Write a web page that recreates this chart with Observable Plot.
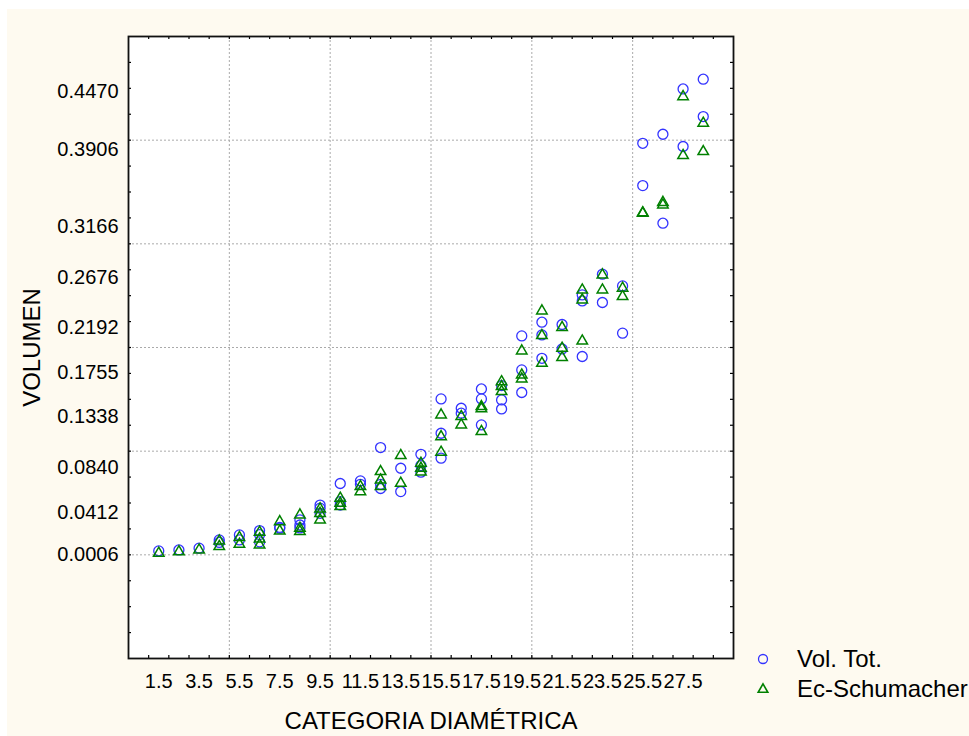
<!DOCTYPE html>
<html>
<head>
<meta charset="utf-8">
<script src="https://cdn.jsdelivr.net/npm/d3@7"></script>
<script src="https://cdn.jsdelivr.net/npm/@observablehq/plot@0.6"></script>
<style>
  html, body { margin: 0; padding: 0; background: #ffffff; overflow: hidden; width: 969px; height: 736px; }
  #chart { position: absolute; left: 7px; top: 9px; }
  #legend { position: absolute; left: 755px; top: 644px; font-family: "Liberation Sans", Arial, sans-serif; font-size: 24px; color: #000; white-space: nowrap; }
  #legend .row { display: flex; align-items: center; height: 30px; }
  #legend svg { flex: none; }
  #legend span { margin-left: 26px; }
</style>
</head>
<body>
<div id="chart"></div>
<div id="legend"></div>
<script>
// ---- data ----
const categorias = [1.5, 2.5, 3.5, 4.5, 5.5, 6.5, 7.5, 8.5, 9.5, 10.5, 11.5, 12.5, 13.5, 14.5,
  15.5, 16.5, 17.5, 18.5, 19.5, 20.5, 21.5, 22.5, 23.5, 24.5, 25.5, 26.5, 27.5, 28.5];

const volTot = [
  [0.0038], [0.0047], [0.0064], [0.0144, 0.0120], [0.0192, 0.0144],
  [0.0234, 0.0195, 0.0125], [0.0265, 0.0257], [0.0337, 0.0288, 0.0260],
  [0.0480, 0.0450, 0.0400], [0.0688, 0.0514, 0.0480], [0.0713, 0.0680],
  [0.1035, 0.0680, 0.0640], [0.0835, 0.0610], [0.0970, 0.0861, 0.0797],
  [0.1504, 0.1173, 0.0932], [0.1414, 0.1366], [0.1600, 0.1504, 0.1253],
  [0.1633, 0.1494, 0.1407], [0.2112, 0.1784, 0.1566], [0.2244, 0.2121, 0.1896],
  [0.2222, 0.1986], [0.2507, 0.2449, 0.1913], [0.2707, 0.2434], [0.2594, 0.2138],
  [0.3970, 0.3562], [0.4057, 0.3199], [0.4494, 0.3939], [0.4588, 0.4228]
];

const ecSchumacher = [
  [0.0015], [0.0030], [0.0047], [0.0134, 0.0080], [0.0167, 0.0102],
  [0.0218, 0.0153, 0.0096], [0.0320, 0.0230], [0.0385, 0.0257, 0.0225],
  [0.0443, 0.0400, 0.0337], [0.0546, 0.0498, 0.0466], [0.0659, 0.0610],
  [0.0803, 0.0722, 0.0659], [0.0958, 0.0690], [0.0884, 0.0835, 0.0800],
  [0.1350, 0.1140, 0.0990], [0.1334, 0.1253], [0.1430, 0.1410, 0.1190],
  [0.1670, 0.1623, 0.1575], [0.1967, 0.1735, 0.1697], [0.2353, 0.2115, 0.1848],
  [0.2193, 0.1993, 0.1903], [0.2555, 0.2459, 0.2063], [0.2700, 0.2555], [0.2572, 0.2492],
  [0.3295, 0.3300], [0.3400, 0.3375], [0.4420, 0.3852], [0.4163, 0.3890]
];

const xTickLabels = [1.5, 3.5, 5.5, 7.5, 9.5, 11.5, 13.5, 15.5, 17.5, 19.5, 21.5, 23.5, 25.5, 27.5];
const yTickLabels = [0.0006, 0.0412, 0.0840, 0.1338, 0.1755, 0.2192, 0.2676, 0.3166, 0.3906, 0.4470];
const xGrid = [5, 10, 15, 20, 25];
const yGrid = [0, 0.1, 0.2, 0.3, 0.4];
const xMinor = d3.range(1, 30);
const yMinor = d3.range(-0.075, 0.49, 0.025);

const seriesNames = ["Vol. Tot.", "Ec-Schumacher"];
const seriesColors = ["#3333ff", "#008000"];

// ---- build tables ----
const ptsVol = categorias.flatMap((c, i) => volTot[i].map(v => ({x: c, y: v})));
const ptsEc = categorias.flatMap((c, i) => ecSchumacher[i].map(v => ({x: c, y: v})));

const W = 962, H = 727;
const mL = 121, mR = 236, mT = 27, mB = 78;
const innerW = W - mL - mR, innerH = H - mT - mB;
const FONT = "Liberation Sans, Arial, sans-serif";

const chart = Plot.plot({
  width: W,
  height: H,
  marginLeft: mL,
  marginRight: mR,
  marginTop: mT,
  marginBottom: mB,
  style: {background: "#fefaf0", fontFamily: FONT, color: "#000", overflow: "visible"},
  x: {domain: [0, 30]},
  y: {domain: [-0.1, 0.5]},
  marks: [
    Plot.frame({fill: "#ffffff", stroke: null}),
    Plot.gridX(xGrid, {stroke: "#aaaaaa", strokeOpacity: 1, strokeDasharray: "2,2", strokeWidth: 1}),
    Plot.gridY(yGrid, {stroke: "#aaaaaa", strokeOpacity: 1, strokeDasharray: "2,2", strokeWidth: 1}),
    // inward minor ticks on all four sides
    Plot.tickX(xMinor, {x: d => d, insetTop: innerH - 3, stroke: "#000", strokeWidth: 1.2}),
    Plot.tickX(xMinor, {x: d => d, insetBottom: innerH - 3, stroke: "#000", strokeWidth: 1.2}),
    Plot.tickY(yMinor, {y: d => d, insetRight: innerW - 3, stroke: "#000", strokeWidth: 1.2}),
    Plot.tickY(yMinor, {y: d => d, insetLeft: innerW - 3, stroke: "#000", strokeWidth: 1.2}),
    Plot.frame({stroke: "#111", strokeWidth: 1.8}),
    Plot.axisX(xTickLabels, {anchor: "bottom", tickSize: 0, tickPadding: 15, tickFormat: d => d.toFixed(1), fontSize: 20, label: null, fill: "#000"}),
    Plot.axisY(yTickLabels, {anchor: "left", tickSize: 0, tickPadding: 10, tickFormat: d => d.toFixed(4), fontSize: 20, label: null, fill: "#000"}),
    Plot.dot(ptsVol, {x: "x", y: "y", r: 5, symbol: "circle", stroke: seriesColors[0], strokeWidth: 1.3, fill: "none"}),
    Plot.dot(ptsEc, {x: "x", y: "y", r: 3.9, symbol: "triangle", stroke: seriesColors[1], strokeWidth: 1.5, fill: "none"}),
    Plot.text(["CATEGORIA DIAMÉTRICA"], {frameAnchor: "bottom", dy: 70, lineAnchor: "bottom", textAnchor: "middle", fontSize: 24, fill: "#000"}),
    Plot.text(["VOLUMEN"], {frameAnchor: "left", dx: -96, rotate: -90, textAnchor: "middle", lineAnchor: "middle", fontSize: 24, fill: "#000"})
  ]
});
document.getElementById("chart").appendChild(chart);

// ---- legend ----
const legend = document.getElementById("legend");
const symbolSvg = [
  `<svg width="16" height="16"><circle cx="8" cy="8" r="4.5" fill="none" stroke="${seriesColors[0]}" stroke-width="1.3"/></svg>`,
  `<svg width="16" height="16"><path d="${d3.symbol(d3.symbolTriangle, 40)()}" transform="translate(8,8.5)" fill="none" stroke="${seriesColors[1]}" stroke-width="1.6"/></svg>`
];
seriesNames.forEach((name, i) => {
  const row = document.createElement("div");
  row.className = "row";
  row.innerHTML = symbolSvg[i] + `<span>${name}</span>`;
  legend.appendChild(row);
});
</script>
</body>
</html>
